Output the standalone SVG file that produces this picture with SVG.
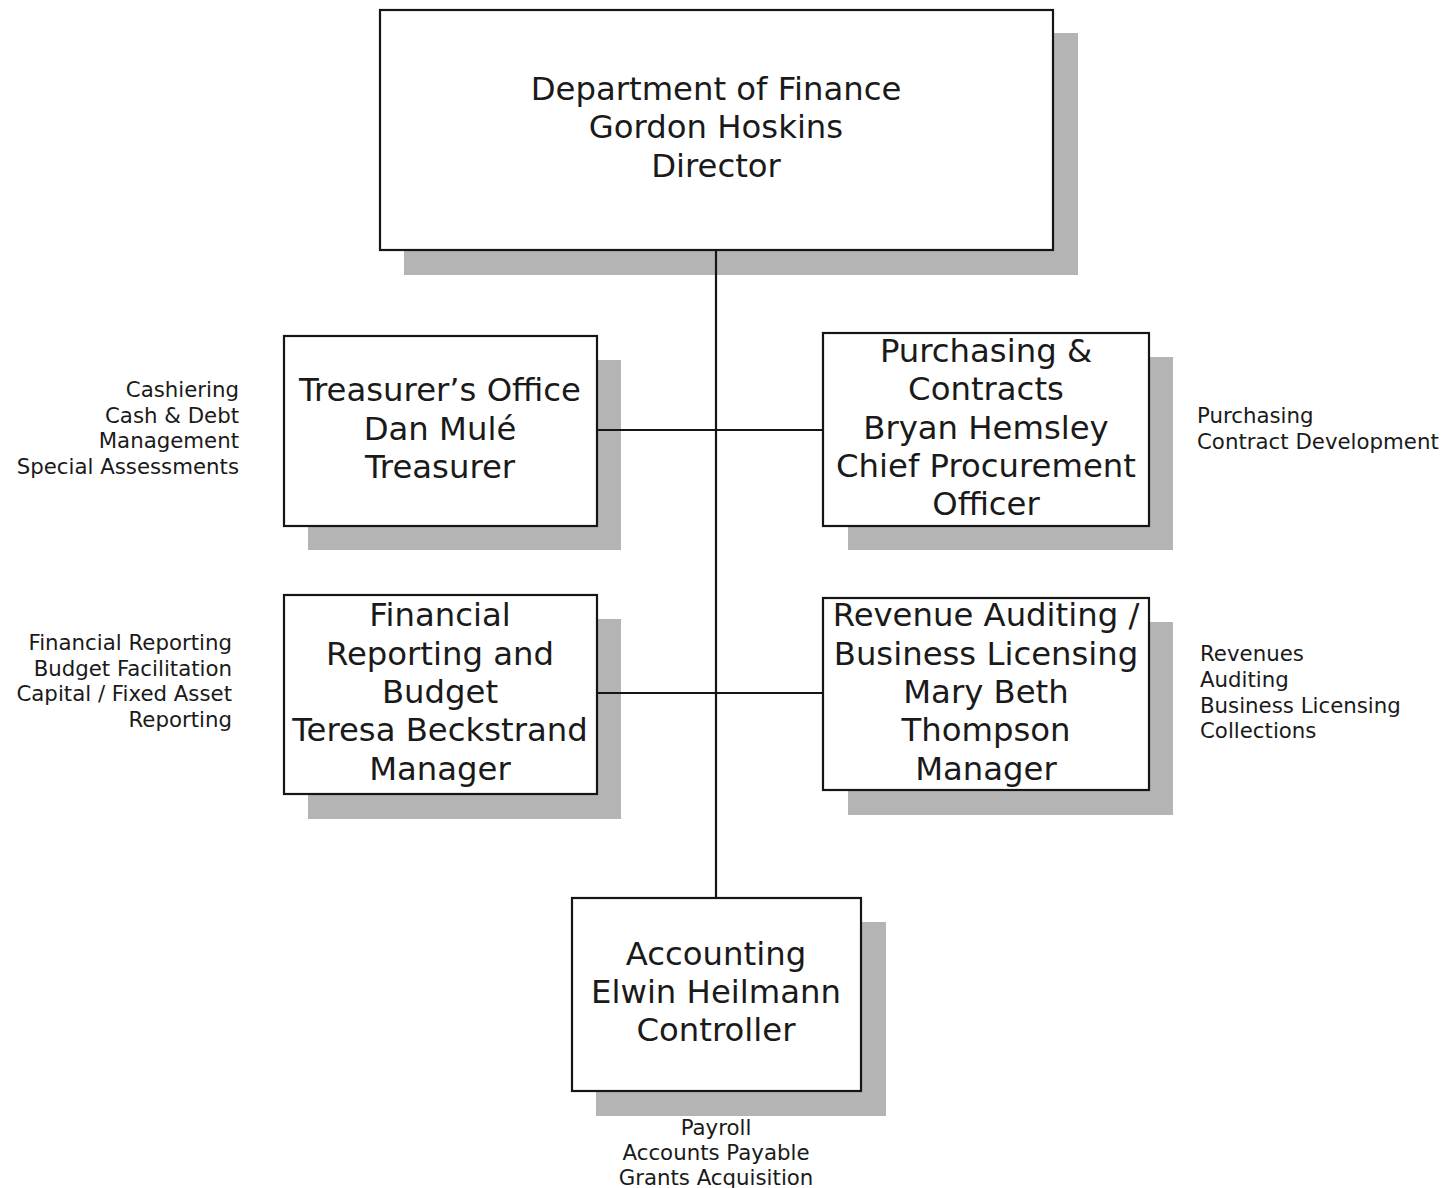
<svg xmlns="http://www.w3.org/2000/svg" width="1455" height="1188" viewBox="0 0 1455 1188">
  <style>
    .shadow { fill: #b4b4b4; }
    .box { fill: #ffffff; stroke: #151515; stroke-width: 2.2; }
    .title { font-family: "DejaVu Sans", Verdana, sans-serif; font-size: 32.3px; fill: #1a1a1a; text-anchor: middle; }
    .note { font-family: "DejaVu Sans", Verdana, sans-serif; font-size: 21.3px; fill: #1a1a1a; }
    .end { text-anchor: end; }
    .mid { text-anchor: middle; }
    .link { stroke: #151515; stroke-width: 2.2; fill: none; }
  </style>
  <rect width="1455" height="1188" fill="#ffffff"/>

  <!-- drop shadows sit beneath everything -->
  <g id="shadows">
    <rect class="shadow" x="404" y="33" width="674" height="242"/>
    <rect class="shadow" x="308" y="360" width="313" height="190"/>
    <rect class="shadow" x="848" y="357" width="325" height="193"/>
    <rect class="shadow" x="308" y="619" width="313" height="200"/>
    <rect class="shadow" x="848" y="622" width="325" height="193"/>
    <rect class="shadow" x="596" y="922" width="290" height="194"/>
  </g>

  <!-- connectors -->
  <g id="connectors">
    <line class="link" x1="716" y1="250" x2="716" y2="898"/>
    <line class="link" x1="597" y1="430" x2="823" y2="430"/>
    <line class="link" x1="597" y1="693" x2="823" y2="693"/>
  </g>

  <!-- director -->
  <g id="node-director">
    <rect class="box" x="380" y="10" width="673" height="240"/>
    <text class="title" x="716" y="100">Department of Finance</text>
    <text class="title" x="716" y="138">Gordon Hoskins</text>
    <text class="title" x="716" y="177">Director</text>
  </g>

  <!-- treasurer -->
  <g id="node-treasurer">
    <rect class="box" x="284" y="336" width="313" height="190"/>
    <text class="title" x="440" y="401">Treasurer’s Office</text>
    <text class="title" x="440" y="440">Dan Mulé</text>
    <text class="title" x="440" y="478">Treasurer</text>
    <text class="note end" x="239" y="397">Cashiering</text>
    <text class="note end" x="239" y="423">Cash &amp; Debt</text>
    <text class="note end" x="239" y="448">Management</text>
    <text class="note end" x="239" y="474">Special Assessments</text>
  </g>

  <!-- purchasing -->
  <g id="node-purchasing">
    <rect class="box" x="823" y="333" width="326" height="193"/>
    <text class="title" x="986" y="362">Purchasing &amp;</text>
    <text class="title" x="986" y="400">Contracts</text>
    <text class="title" x="986" y="439">Bryan Hemsley</text>
    <text class="title" x="986" y="477">Chief Procurement</text>
    <text class="title" x="986" y="515">Officer</text>
    <text class="note" x="1197" y="423">Purchasing</text>
    <text class="note" x="1197" y="449">Contract Development</text>
  </g>

  <!-- financial reporting -->
  <g id="node-financial">
    <rect class="box" x="284" y="595" width="313" height="199"/>
    <text class="title" x="440" y="626">Financial</text>
    <text class="title" x="440" y="665">Reporting and</text>
    <text class="title" x="440" y="703">Budget</text>
    <text class="title" x="440" y="741">Teresa Beckstrand</text>
    <text class="title" x="440" y="780">Manager</text>
    <text class="note end" x="232" y="650">Financial Reporting</text>
    <text class="note end" x="232" y="676">Budget Facilitation</text>
    <text class="note end" x="232" y="701">Capital / Fixed Asset</text>
    <text class="note end" x="232" y="727">Reporting</text>
  </g>

  <!-- revenue auditing -->
  <g id="node-revenue">
    <rect class="box" x="823" y="598" width="326" height="192"/>
    <text class="title" x="986" y="626">Revenue Auditing /</text>
    <text class="title" x="986" y="665">Business Licensing</text>
    <text class="title" x="986" y="703">Mary Beth</text>
    <text class="title" x="986" y="741">Thompson</text>
    <text class="title" x="986" y="780">Manager</text>
    <text class="note" x="1200" y="661">Revenues</text>
    <text class="note" x="1200" y="687">Auditing</text>
    <text class="note" x="1200" y="713">Business Licensing</text>
    <text class="note" x="1200" y="738">Collections</text>
  </g>

  <!-- accounting -->
  <g id="node-accounting">
    <rect class="box" x="572" y="898" width="289" height="193"/>
    <text class="title" x="716" y="965">Accounting</text>
    <text class="title" x="716" y="1003">Elwin Heilmann</text>
    <text class="title" x="716" y="1041">Controller</text>
    <text class="note mid" x="716" y="1135">Payroll</text>
    <text class="note mid" x="716" y="1160">Accounts Payable</text>
    <text class="note mid" x="716" y="1185">Grants Acquisition</text>
  </g>
</svg>
